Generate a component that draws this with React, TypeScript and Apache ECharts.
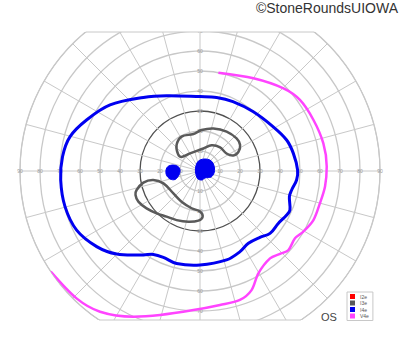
import React, { useEffect, useRef } from 'react';
import * as echarts from 'echarts';

const TITLE = '©StoneRoundsUIOWA';
const EYE = 'OS';
const LEGEND_NAMES = ['I2e', 'I3e', 'I4e', 'V4e'];
const LEGEND_COLORS = ['#ff0000', '#5a5a5a', '#0000f0', '#ff44ff'];

// chart geometry (degrees of visual field)
const RING_MAX = 90;
const RING_STEP = 10;
const MERIDIAN_STEP = 15;
const DARK_RING = 30;
const TOP_LIMIT = 69.5;
const BOTTOM_LIMIT = 74.5;
const VERTICAL_LABEL_MAX = 70;

// isopters as [eccentricity°, meridian°]
const i4eOuter = [
  [46.4, 127.6], [41.2, 113.9], [37.2, 90], [37.7, 77.3], [38.4, 64.6], [39.8, 48.3],
  [42.7, 31.3], [46.0, 19.7], [47.5, 10.7], [48.8, 0.6], [48.5, 354.7], [46.8, 348.3],
  [46.5, 344], [49.0, 336.6], [48.6, 333.1], [47.1, 326.2], [46.9, 318.3], [44.7, 312.1],
  [43.5, 303.8], [45.0, 296.4], [46.4, 286.6], [47.0, 270], [47.7, 255.8], [46.9, 247],
  [47.8, 240.8], [50.6, 236], [58.8, 224.9], [64.0, 216.2], [68.4, 205.6], [69.8, 194.8],
  [69.8, 183.7], [69.1, 174], [67.2, 165.2], [62.2, 155.8], [55.8, 143.7],
];
const i4eCentral = [
  [4.3, 110.6], [5.5, 90], [6.5, 67.4], [7.4, 47.7], [7.6, 31.6], [7.4, 11.7], [7.1, 351.9],
  [6.3, 331.4], [4.3, 305.5], [4.6, 282.5], [4.1, 256], [2.8, 225], [2.5, 156],
];
const i4eBlindSpot = [
  [16.2, 172], [13.8, 167.5], [11.2, 168.4], [10.0, 177.1], [10.7, 190.8], [13.2, 198.8],
  [15.5, 194.9], [16.9, 186.8], [17.0, 178.3],
];
const i3eUpper = [
  [17.5, 132], [19.5, 118.1], [18.8, 100.1], [20.5, 87.8], [22.3, 72.5], [23.8, 56],
  [24.5, 41.7], [23.9, 33], [21.4, 26.3], [18.4, 25], [15.9, 33.5], [15.5, 49.7],
  [14.1, 65.6], [11.4, 81.4], [10.1, 119.6], [11.6, 142.7], [13.9, 142.3],
];
const i3eLower = [
  [33.1, 196.7], [28.9, 191.6], [23.8, 190.9], [19.3, 198.7], [17.4, 220.1], [17.9, 239],
  [19.1, 257.3], [20.3, 270], [22.9, 273.3], [24.8, 268.2], [26.0, 257.1], [27.2, 244.5],
  [28.3, 233.8], [30.3, 224.3], [32.6, 215], [34.4, 206.4], [34.4, 200.4],
];
const v4e = [
  [90, 214], [88.7, 225.9], [86.3, 234.6], [80.1, 245.4], [74.7, 254.5], [69.6, 267.3],
  [67.7, 278.5], [67.5, 287.2], [64.9, 293.4], [58.9, 299.7], [56.0, 308.7], [57.6, 314],
  [59.3, 318.2], [58.2, 324.7], [59.9, 329.6], [61.8, 336.6], [62.1, 344.9], [63.0, 352.9],
  [63.4, 2.0], [63.2, 12.6], [62.2, 24.2], [61.3, 35.4], [58.7, 44.7], [53.5, 60.0], [50.0, 79.4],
];

const CX = 200;
const CY = 171;
const R = 180;

function loopSeries(name: string, pts: number[][], color: string, fill: boolean, width: number) {
  return {
    type: 'custom',
    name,
    coordinateSystem: 'polar',
    polarIndex: 0,
    data: pts,
    itemStyle: { color },
    silent: true,
    z: 10,
    renderItem: (params: any, api: any) => {
      if (params.dataIndex !== 0) return null;
      const points = pts.map((p) => api.coord(p));
      return {
        type: 'polygon',
        shape: { points, smooth: 0.35 },
        style: { fill: fill ? color : 'none', stroke: color, lineWidth: width },
      };
    },
  };
}

export default function App() {
  const ref = useRef<HTMLDivElement>(null);
  useEffect(() => {
    if (!ref.current) return;
    const chart = echarts.init(ref.current, null, { renderer: 'svg' });
    const ticks: number[] = [];
    for (let v = 0; v <= RING_MAX; v += RING_STEP) ticks.push(v);
    const ringColors = ticks.map((v) => (v === DARK_RING ? '#505050' : '#c8c8c8'));
    const pxPerDeg = R / RING_MAX;
    const topY = CY - TOP_LIMIT * pxPerDeg;
    const botY = CY + BOTTOM_LIMIT * pxPerDeg;
    const topHalf = Math.sqrt(R * R - (CY - topY) ** 2);
    const botHalf = Math.sqrt(R * R - (botY - CY) ** 2);
    const starts = [0, 90, 180, 270];
    const color = (n: string) => LEGEND_COLORS[LEGEND_NAMES.indexOf(n)];

    chart.setOption({
      animation: false,
      textStyle: { fontFamily: 'Liberation Sans, Arial, sans-serif' },
      title: {
        text: TITLE,
        right: 2,
        top: 1,
        padding: 0,
        z: 100,
        textStyle: { fontSize: 14, fontWeight: 'normal', color: '#333' },
      },
      legend: {
        data: LEGEND_NAMES,
        orient: 'vertical',
        left: 347,
        top: 292,
        icon: 'rect',
        itemWidth: 5,
        itemHeight: 5,
        itemGap: 1.5,
        padding: [2, 4, 2, 3],
        borderColor: '#c8c8c8',
        borderWidth: 1,
        backgroundColor: '#fff',
        selectedMode: false,
        z: 100,
        textStyle: { fontSize: 5, color: '#555' },
      },
      polar: starts.map(() => ({ center: [CX, CY], radius: R })),
      angleAxis: starts.map((s, i) => ({
        polarIndex: i,
        type: 'value',
        min: 0,
        max: 360,
        interval: MERIDIAN_STEP,
        startAngle: s,
        clockwise: false,
        axisLine: { show: i === 0, lineStyle: { color: '#c8c8c8', width: 1 } },
        axisTick: { show: false },
        axisLabel: { show: false },
        splitLine: { show: i === 0, lineStyle: { color: '#c8c8c8', width: 1 } },
      })),
      radiusAxis: starts.map((s, i) => ({
        polarIndex: i,
        type: 'value',
        min: 0,
        max: RING_MAX,
        interval: RING_STEP,
        axisLine: { show: false },
        axisTick: { show: false },
        axisLabel: {
          show: true,
          fontSize: 5,
          color: '#9a9a9a',
          margin: 0,
          align: 'center',
          verticalAlign: 'middle',
          formatter: (v: number) => {
            if (v === 0) return '';
            if ((s === 90 || s === 270) && v > VERTICAL_LABEL_MAX) return '';
            return String(v);
          },
        },
        splitLine: { show: i === 0, lineStyle: { color: ringColors, width: 1.3 } },
      })),
      graphic: [
        { type: 'rect', shape: { x: 0, y: 0, width: 400, height: topY }, style: { fill: '#fff' }, z: 50, silent: true },
        { type: 'rect', shape: { x: 0, y: botY, width: 400, height: 352 - botY }, style: { fill: '#fff' }, z: 50, silent: true },
        { type: 'line', shape: { x1: CX - topHalf, y1: topY, x2: CX + topHalf, y2: topY }, style: { stroke: '#c8c8c8', lineWidth: 1 }, z: 51, silent: true },
        { type: 'line', shape: { x1: CX - botHalf, y1: botY, x2: CX + botHalf, y2: botY }, style: { stroke: '#c8c8c8', lineWidth: 1 }, z: 51, silent: true },
        { type: 'text', x: 321, y: 311, style: { text: EYE, fontSize: 11, fill: '#444', fontFamily: 'Liberation Sans, Arial, sans-serif' }, z: 100, silent: true },
      ],
      series: [
        { type: 'line', name: 'I2e', coordinateSystem: 'polar', polarIndex: 0, data: [], itemStyle: { color: color('I2e') }, lineStyle: { color: color('I2e') } },
        loopSeries('I3e', i3eUpper, color('I3e'), false, 2.5),
        loopSeries('I3e', i3eLower, color('I3e'), false, 2.5),
        loopSeries('I4e', i4eOuter, color('I4e'), false, 3),
        loopSeries('I4e', i4eCentral, color('I4e'), true, 1),
        loopSeries('I4e', i4eBlindSpot, color('I4e'), true, 1),
        {
          type: 'line',
          name: 'V4e',
          coordinateSystem: 'polar',
          polarIndex: 0,
          data: v4e,
          smooth: 0.3,
          showSymbol: false,
          z: 10,
          itemStyle: { color: color('V4e') },
          lineStyle: { color: color('V4e'), width: 2.5 },
        },
      ],
    });
    return () => chart.dispose();
  }, []);
  return <div ref={ref} style={{ position: 'fixed', left: 0, top: 0, width: 400, height: 352, background: '#fff' }} />;
}
